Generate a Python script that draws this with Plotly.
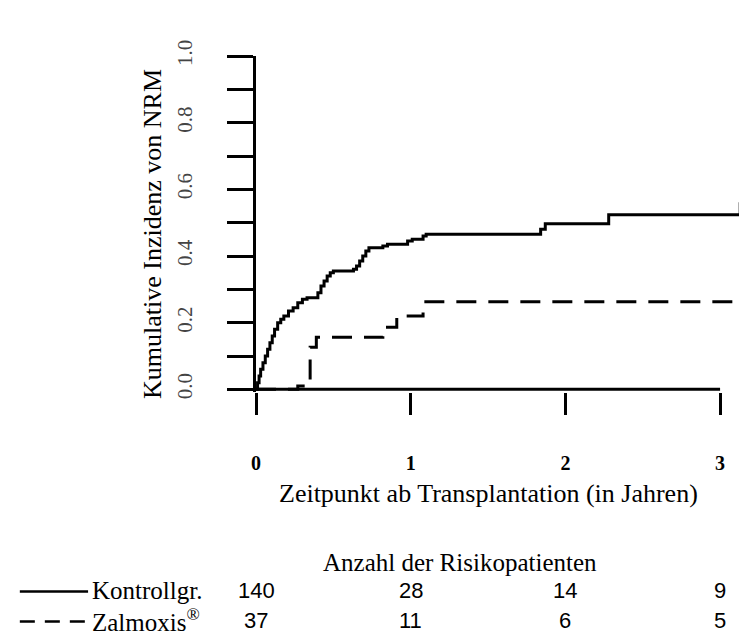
import plotly.graph_objects as go

# ---- data ----
ctrl_time = [0, 0.01, 0.02, 0.03, 0.045, 0.06, 0.075, 0.09, 0.105, 0.12, 0.14, 0.16,
             0.18, 0.21, 0.24, 0.27, 0.30, 0.33, 0.40, 0.42, 0.44, 0.46, 0.48, 0.50,
             0.63, 0.65, 0.67, 0.69, 0.71, 0.73, 0.82, 0.85, 0.98, 1.01, 1.08, 1.10,
             1.84, 1.87, 2.28, 3.13, 3.2]
ctrl_cif = [0, 0.02, 0.04, 0.06, 0.08, 0.10, 0.12, 0.14, 0.16, 0.18, 0.20, 0.21,
            0.22, 0.235, 0.245, 0.26, 0.27, 0.275, 0.29, 0.31, 0.325, 0.34, 0.35, 0.355,
            0.36, 0.37, 0.385, 0.40, 0.415, 0.425, 0.43, 0.435, 0.445, 0.45, 0.46, 0.465,
            0.48, 0.497, 0.524, 0.557, 0.557]

zalm_time = [0, 0.27, 0.34, 0.35, 0.39, 0.82, 0.91, 1.08, 3.2]
zalm_cif = [0, 0.01, 0.027, 0.126, 0.156, 0.186, 0.22, 0.263, 0.263]

risk_times = [0, 1, 2, 3]
risk_ctrl = [140, 28, 14, 9]
risk_zalm = [37, 11, 6, 5]

y_ticks = [0, 0.2, 0.4, 0.6, 0.8, 1.0]
y_ticktext = ["0.0", "0.2", "0.4", "0.6", "0.8", "1.0"]
x_ticks = [0, 1, 2, 3]

group_names = ["Kontrollgr.", "Zalmoxis<sup>®</sup>"]

SERIF = "Liberation Serif"
SANS = "Liberation Sans"

fig = go.Figure()
fig.add_trace(go.Scatter(x=ctrl_time, y=ctrl_cif, mode="lines", line_shape="hv",
                         line=dict(color="black", width=3), showlegend=False))
fig.add_trace(go.Scatter(x=zalm_time, y=zalm_cif, mode="lines", line_shape="hv",
                         line=dict(color="black", width=3, dash="20px,12px"), showlegend=False))

# x axis line from 0 to 3 only (R style)
fig.add_shape(type="line", xref="x", yref="y", x0=x_ticks[0], x1=x_ticks[-1], y0=0, y1=0,
              line=dict(color="black", width=3), layer="above")

# y axis title
fig.add_annotation(text="Kumulative Inzidenz von NRM", textangle=-90, xref="paper", yref="paper",
                   x=-0.212, y=0.47, xanchor="center", yanchor="middle", showarrow=False,
                   font=dict(family=SERIF, size=26, color="black"))
# x axis title (centered on 0..3)
fig.add_annotation(text="Zeitpunkt ab Transplantation (in Jahren)", xref="x", yref="paper",
                   x=1.5, y=-0.302, xanchor="center", yanchor="middle", showarrow=False,
                   font=dict(family=SERIF, size=26, color="black"))

# risk table
fig.add_annotation(text="Anzahl der Risikopatienten", xref="x", yref="paper", x=1.32, y=-0.507,
                   xanchor="center", yanchor="middle", showarrow=False,
                   font=dict(family=SERIF, size=25, color="black"))
row_y = [-0.591, -0.680]
for name, yy in zip(group_names, row_y):
    fig.add_annotation(text=name, xref="paper", yref="paper", x=-0.338, y=yy, xanchor="left",
                       yanchor="middle", showarrow=False,
                       font=dict(family=SERIF, size=25, color="black"))
for t, c, z in zip(risk_times, risk_ctrl, risk_zalm):
    fig.add_annotation(text=str(c), xref="x", yref="paper", x=t, y=row_y[0], xanchor="center",
                       yanchor="middle", showarrow=False, font=dict(family=SANS, size=22, color="black"))
    fig.add_annotation(text=str(z), xref="x", yref="paper", x=t, y=row_y[1], xanchor="center",
                       yanchor="middle", showarrow=False, font=dict(family=SANS, size=22, color="black"))

# legend line samples in the risk table
fig.add_shape(type="line", xref="paper", yref="paper", x0=-0.481, x1=-0.342, y0=row_y[0] - 0.003,
              y1=row_y[0] - 0.003, line=dict(color="black", width=2.5))
fig.add_shape(type="line", xref="paper", yref="paper", x0=-0.481, x1=-0.342, y0=row_y[1] - 0.003,
              y1=row_y[1] - 0.003, line=dict(color="black", width=2.5, dash="15px,10px"))

fig.update_layout(
    width=739, height=628,
    margin=dict(l=248, r=0, t=48, b=244),
    plot_bgcolor="white", paper_bgcolor="white",
    xaxis=dict(range=[0, 3.174], tickvals=x_ticks, ticktext=["<b>%d</b>" % v for v in x_ticks],
               ticks="outside", ticklen=22, tickwidth=3, tickcolor="black",
               showline=False, showgrid=False, zeroline=False, ticklabelstandoff=31,
               tickfont=dict(family=SERIF, size=20, color="black")),
    yaxis=dict(range=[-0.008, 1.0], tickvals=y_ticks, ticktext=y_ticktext,
               ticks="outside", ticklen=26, tickwidth=3, tickcolor="black",
               minor=dict(tick0=0, dtick=0.1, ticks="outside", ticklen=26, tickwidth=3,
                          tickcolor="black", showgrid=False),
               showline=True, linewidth=3, linecolor="black", tickangle=-90,
               showgrid=False, zeroline=False, ticklabelstandoff=27,
               tickfont=dict(family=SERIF, size=21, color="#444")),
)

fig.write_html("out.html")
